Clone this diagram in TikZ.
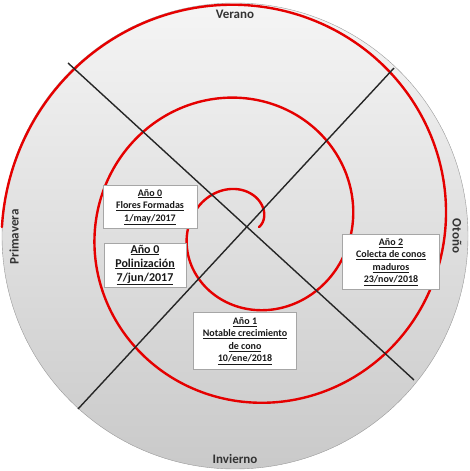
\documentclass[tikz,border=0pt]{standalone}
\usepackage{fontspec}
\setmainfont{Carlito}
\begin{document}
\begin{tikzpicture}[x=1pt, y=1pt,
  season/.style={font=\bfseries\fontsize{13}{15}\selectfont, text=black!80},
  datebox/.style={draw=gray!70, fill=white, align=center, inner sep=2pt,
    font=\bfseries\fontsize{10}{12.5}\selectfont, text=black!90},
  axisline/.style={line width=1.4pt, black!85},
  spiral/.style={line width=2.4pt, red!90!black, line cap=round}]
  \useasboundingbox (0,0) rectangle (470,471);
  % Disc
  \coordinate (O) at (235,235);
  \shade[top color=gray!8, bottom color=gray!42, draw=gray!80] (O) circle (233);
  % Spiral
  \draw[spiral] plot[domain=0:900, samples=400, smooth]
    ({247+(12+0.259*\x)*cos(\x)}, {244+(12+0.259*\x)*sin(\x)});
  % Diagonals
  \coordinate (a1) at (68,408);
  \coordinate (a2) at (414,91);
  \coordinate (b1) at (394,403);
  \coordinate (b2) at (78,62);
  \draw[axisline] (a1) -- (a2);
  \draw[axisline] (b1) -- (b2);
  % Seasons
  \node[season] (verano) at (235,457) {Verano};
  \node[season] (invierno) at (235,12) {Invierno};
  \node[season, rotate=90] (primavera) at (14,234) {Primavera};
  \node[season, rotate=-90] (otono) at (457,235) {Otoño};
  % Dates
  \node[datebox, minimum width=94, minimum height=43] (flores) at (150,264)
    {\underline{Año 0}\\\underline{Flores Formadas}\\\underline{1/may/2017}};
  \node[datebox, minimum width=82, minimum height=44,
    font=\bfseries\fontsize{12}{14}\selectfont] (polin) at (145,206)
    {\underline{Año 0}\\\underline{Polinización}\\\underline{7/jun/2017}};
  \node[datebox, minimum width=103, minimum height=57] (cono) at (245,130)
    {\underline{Año 1}\\\underline{Notable crecimiento}\\\underline{de cono}\\\underline{10/ene/2018}};
  \node[datebox, minimum width=97, minimum height=55] (colecta) at (391,209)
    {\underline{Año 2}\\\underline{Colecta de conos}\\\underline{maduros}\\\underline{23/nov/2018}};
\end{tikzpicture}
\end{document}
